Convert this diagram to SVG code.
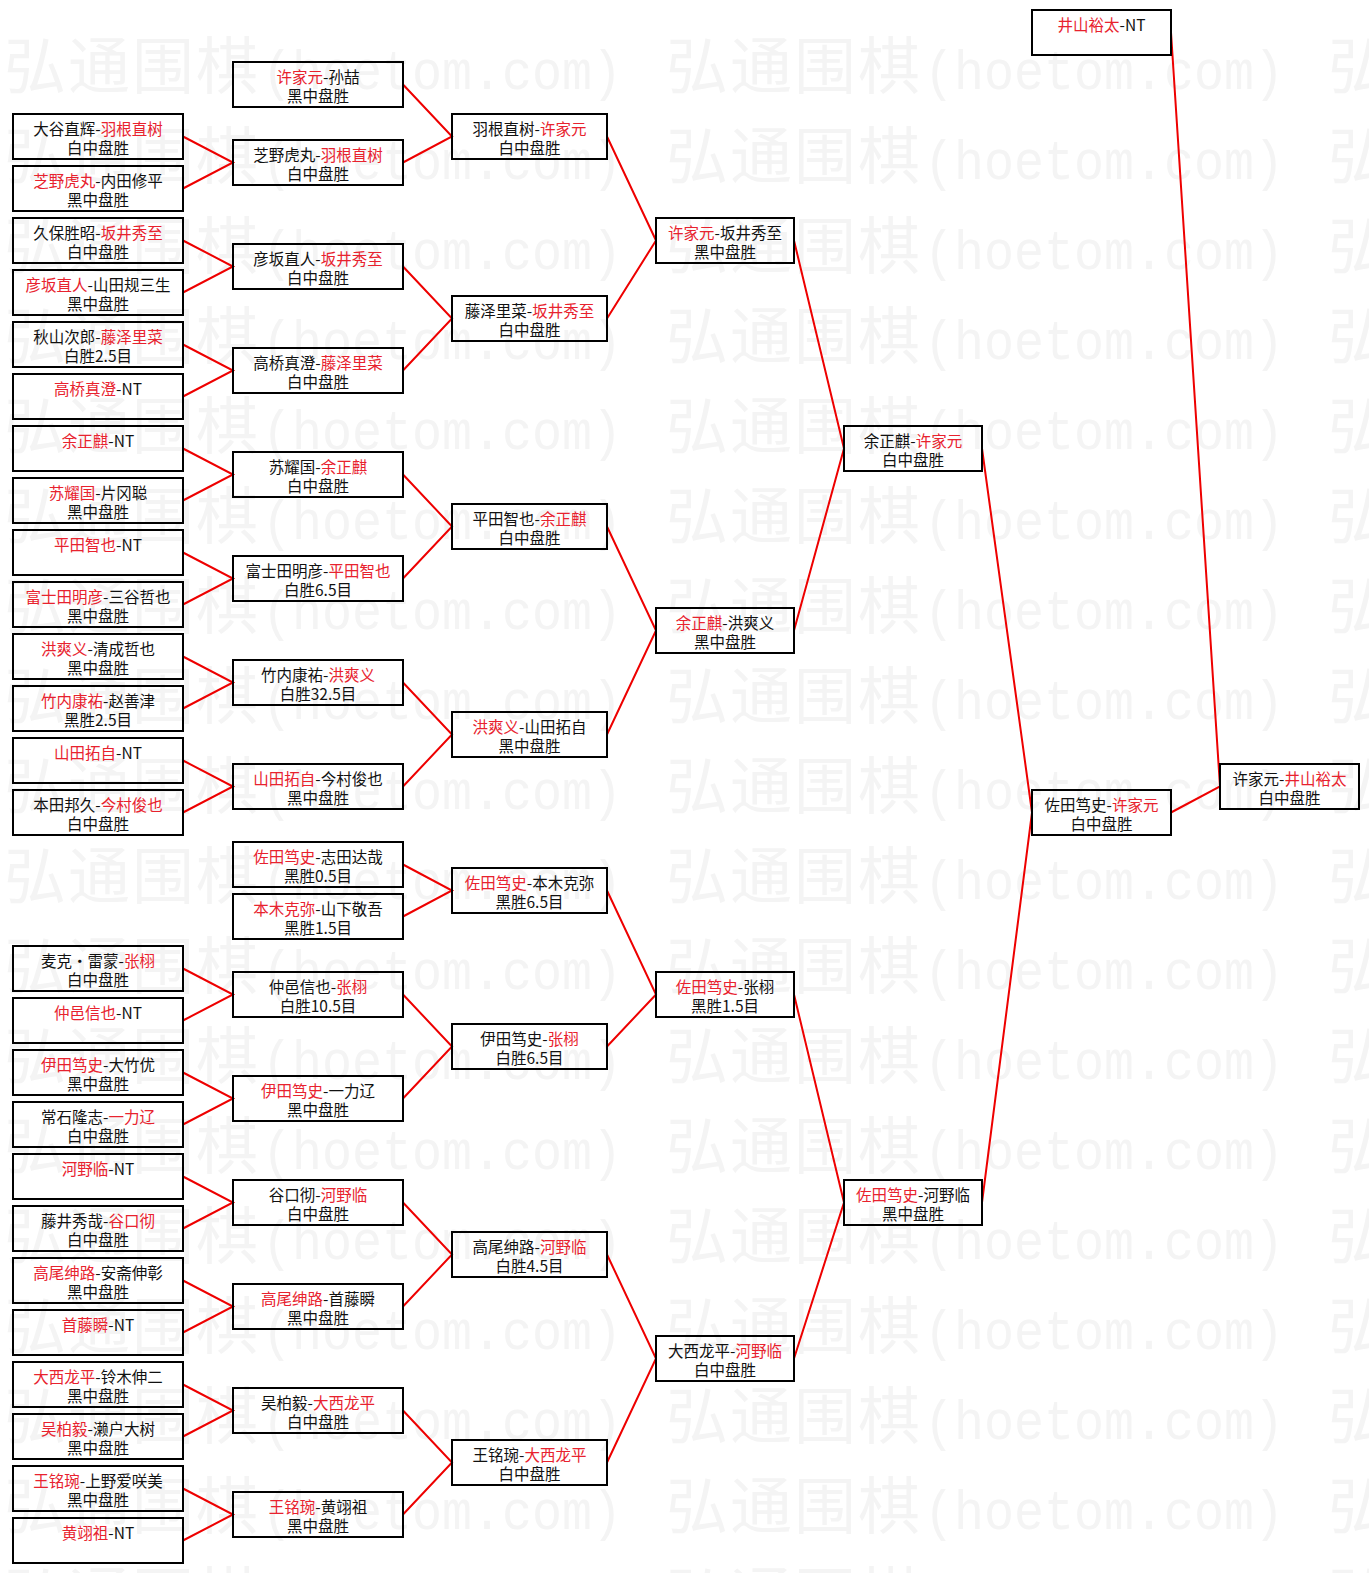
<svg xmlns="http://www.w3.org/2000/svg" xmlns:xlink="http://www.w3.org/1999/xlink" width="1369" height="1573" viewBox="0 0 1369 1573">
<style>
.bg{fill:#fff}
.wmc{font-family:"Noto Sans CJK SC","Noto Sans CJK JP",sans-serif;font-size:62px;letter-spacing:2px;fill:#f4f4f4}
.wma{font-family:"Liberation Mono","DejaVu Sans Mono",monospace;font-size:56px;fill:#f4f4f4}
.box rect{fill:none;stroke:#000;stroke-width:2}
.box text{font-family:"Noto Sans CJK SC","Noto Sans CJK JP",sans-serif;font-size:15.5px;fill:#111;text-anchor:middle}
.box .r{fill:#e8222e}
.cn{fill:none;stroke:#ee0000;stroke-width:2}
</style>
<defs>
<g id="wm">
<text class="wmc" x="0" y="0">弘通围棋</text>
<text class="wma" x="258" y="0" textLength="360" lengthAdjust="spacingAndGlyphs">(hoetom.com)</text>
</g>
<g id="wmrow">
<use xlink:href="#wm" x="4"/>
<use xlink:href="#wm" x="666"/>
<use xlink:href="#wm" x="1328"/>
</g>
</defs>
<rect class="bg" x="0" y="0" width="1369" height="1573"/>
<g id="watermark">
<use xlink:href="#wmrow" y="89"/>
<use xlink:href="#wmrow" y="179"/>
<use xlink:href="#wmrow" y="269"/>
<use xlink:href="#wmrow" y="359"/>
<use xlink:href="#wmrow" y="449"/>
<use xlink:href="#wmrow" y="539"/>
<use xlink:href="#wmrow" y="629"/>
<use xlink:href="#wmrow" y="719"/>
<use xlink:href="#wmrow" y="809"/>
<use xlink:href="#wmrow" y="899"/>
<use xlink:href="#wmrow" y="989"/>
<use xlink:href="#wmrow" y="1079"/>
<use xlink:href="#wmrow" y="1169"/>
<use xlink:href="#wmrow" y="1259"/>
<use xlink:href="#wmrow" y="1349"/>
<use xlink:href="#wmrow" y="1439"/>
<use xlink:href="#wmrow" y="1529"/>
<use xlink:href="#wmrow" y="1619"/>
</g>
<g id="connectors">
<path class="cn" d="M183 136.5L233 162.5L183 188.5M183 240.5L233 266.5L183 292.5M183 344.5L233 370.5L183 396.5M183 448.5L233 474.5L183 500.5M183 552.5L233 578.5L183 604.5M183 656.5L233 682.5L183 708.5M183 760.5L233 786.5L183 812.5M183 968.5L233 994.5L183 1020.5M183 1072.5L233 1098.5L183 1124.5M183 1176.5L233 1202.5L183 1228.5M183 1280.5L233 1306.5L183 1332.5M183 1384.5L233 1410.5L183 1436.5M183 1488.5L233 1514.5L183 1540.5"/>
<path class="cn" d="M403 84.5L452 136.5L403 162.5M403 266.5L452 318.5L403 370.5M403 474.5L452 526.5L403 578.5M403 682.5L452 734.5L403 786.5M403 864.5L452 890.5L403 916.5M403 994.5L452 1046.5L403 1098.5M403 1202.5L452 1254.5L403 1306.5M403 1410.5L452 1462.5L403 1514.5"/>
<path class="cn" d="M607 136.5L656 240.5L607 318.5M607 526.5L656 630.5L607 734.5M607 890.5L656 994.5L607 1046.5M607 1254.5L656 1358.5L607 1462.5"/>
<path class="cn" d="M794 240.5L844 448.5L794 630.5M794 994.5L844 1202.5L794 1358.5"/>
<path class="cn" d="M982 448.5L1032 812.5L982 1202.5"/>
<path class="cn" d="M1171 812.5L1220 786.5L1171 32.5"/>
</g>
<g id="n1-01" class="box"><rect x="13" y="114" width="170" height="45"/><text x="98" y="134.5">大谷直辉-<tspan class="r">羽根直树</tspan></text><text x="98" y="154">白中盘胜</text></g>
<g id="n1-02" class="box"><rect x="13" y="166" width="170" height="45"/><text x="98" y="186.5"><tspan class="r">芝野虎丸</tspan>-内田修平</text><text x="98" y="206">黑中盘胜</text></g>
<g id="n1-03" class="box"><rect x="13" y="218" width="170" height="45"/><text x="98" y="238.5">久保胜昭-<tspan class="r">坂井秀至</tspan></text><text x="98" y="258">白中盘胜</text></g>
<g id="n1-04" class="box"><rect x="13" y="270" width="170" height="45"/><text x="98" y="290.5"><tspan class="r">彦坂直人</tspan>-山田规三生</text><text x="98" y="310">黑中盘胜</text></g>
<g id="n1-05" class="box"><rect x="13" y="322" width="170" height="45"/><text x="98" y="342.5">秋山次郎-<tspan class="r">藤泽里菜</tspan></text><text x="98" y="362">白胜2.5目</text></g>
<g id="n1-06" class="box"><rect x="13" y="374" width="170" height="45"/><text x="98" y="394.5"><tspan class="r">高桥真澄</tspan>-NT</text></g>
<g id="n1-07" class="box"><rect x="13" y="426" width="170" height="45"/><text x="98" y="446.5"><tspan class="r">余正麒</tspan>-NT</text></g>
<g id="n1-08" class="box"><rect x="13" y="478" width="170" height="45"/><text x="98" y="498.5"><tspan class="r">苏耀国</tspan>-片冈聪</text><text x="98" y="518">黑中盘胜</text></g>
<g id="n1-09" class="box"><rect x="13" y="530" width="170" height="45"/><text x="98" y="550.5"><tspan class="r">平田智也</tspan>-NT</text></g>
<g id="n1-10" class="box"><rect x="13" y="582" width="170" height="45"/><text x="98" y="602.5"><tspan class="r">富士田明彦</tspan>-三谷哲也</text><text x="98" y="622">黑中盘胜</text></g>
<g id="n1-11" class="box"><rect x="13" y="634" width="170" height="45"/><text x="98" y="654.5"><tspan class="r">洪爽义</tspan>-清成哲也</text><text x="98" y="674">黑中盘胜</text></g>
<g id="n1-12" class="box"><rect x="13" y="686" width="170" height="45"/><text x="98" y="706.5"><tspan class="r">竹内康祐</tspan>-赵善津</text><text x="98" y="726">黑胜2.5目</text></g>
<g id="n1-13" class="box"><rect x="13" y="738" width="170" height="45"/><text x="98" y="758.5"><tspan class="r">山田拓自</tspan>-NT</text></g>
<g id="n1-14" class="box"><rect x="13" y="790" width="170" height="45"/><text x="98" y="810.5">本田邦久-<tspan class="r">今村俊也</tspan></text><text x="98" y="830">白中盘胜</text></g>
<g id="n1-17" class="box"><rect x="13" y="946" width="170" height="45"/><text x="98" y="966.5">麦克・雷蒙-<tspan class="r">张栩</tspan></text><text x="98" y="986">白中盘胜</text></g>
<g id="n1-18" class="box"><rect x="13" y="998" width="170" height="45"/><text x="98" y="1018.5"><tspan class="r">仲邑信也</tspan>-NT</text></g>
<g id="n1-19" class="box"><rect x="13" y="1050" width="170" height="45"/><text x="98" y="1070.5"><tspan class="r">伊田笃史</tspan>-大竹优</text><text x="98" y="1090">黑中盘胜</text></g>
<g id="n1-20" class="box"><rect x="13" y="1102" width="170" height="45"/><text x="98" y="1122.5">常石隆志-<tspan class="r">一力辽</tspan></text><text x="98" y="1142">白中盘胜</text></g>
<g id="n1-21" class="box"><rect x="13" y="1154" width="170" height="45"/><text x="98" y="1174.5"><tspan class="r">河野临</tspan>-NT</text></g>
<g id="n1-22" class="box"><rect x="13" y="1206" width="170" height="45"/><text x="98" y="1226.5">藤井秀哉-<tspan class="r">谷口彻</tspan></text><text x="98" y="1246">白中盘胜</text></g>
<g id="n1-23" class="box"><rect x="13" y="1258" width="170" height="45"/><text x="98" y="1278.5"><tspan class="r">高尾绅路</tspan>-安斋伸彰</text><text x="98" y="1298">黑中盘胜</text></g>
<g id="n1-24" class="box"><rect x="13" y="1310" width="170" height="45"/><text x="98" y="1330.5"><tspan class="r">首藤瞬</tspan>-NT</text></g>
<g id="n1-25" class="box"><rect x="13" y="1362" width="170" height="45"/><text x="98" y="1382.5"><tspan class="r">大西龙平</tspan>-铃木伸二</text><text x="98" y="1402">黑中盘胜</text></g>
<g id="n1-26" class="box"><rect x="13" y="1414" width="170" height="45"/><text x="98" y="1434.5"><tspan class="r">吴柏毅</tspan>-濑户大树</text><text x="98" y="1454">黑中盘胜</text></g>
<g id="n1-27" class="box"><rect x="13" y="1466" width="170" height="45"/><text x="98" y="1486.5"><tspan class="r">王铭琬</tspan>-上野爱咲美</text><text x="98" y="1506">黑中盘胜</text></g>
<g id="n1-28" class="box"><rect x="13" y="1518" width="170" height="45"/><text x="98" y="1538.5"><tspan class="r">黄翊祖</tspan>-NT</text></g>
<g id="n2-01" class="box"><rect x="233" y="62" width="170" height="45"/><text x="318" y="82.5"><tspan class="r">许家元</tspan>-孙喆</text><text x="318" y="102">黑中盘胜</text></g>
<g id="n2-02" class="box"><rect x="233" y="140" width="170" height="45"/><text x="318" y="160.5">芝野虎丸-<tspan class="r">羽根直树</tspan></text><text x="318" y="180">白中盘胜</text></g>
<g id="n2-03" class="box"><rect x="233" y="244" width="170" height="45"/><text x="318" y="264.5">彦坂直人-<tspan class="r">坂井秀至</tspan></text><text x="318" y="284">白中盘胜</text></g>
<g id="n2-04" class="box"><rect x="233" y="348" width="170" height="45"/><text x="318" y="368.5">高桥真澄-<tspan class="r">藤泽里菜</tspan></text><text x="318" y="388">白中盘胜</text></g>
<g id="n2-05" class="box"><rect x="233" y="452" width="170" height="45"/><text x="318" y="472.5">苏耀国-<tspan class="r">余正麒</tspan></text><text x="318" y="492">白中盘胜</text></g>
<g id="n2-06" class="box"><rect x="233" y="556" width="170" height="45"/><text x="318" y="576.5">富士田明彦-<tspan class="r">平田智也</tspan></text><text x="318" y="596">白胜6.5目</text></g>
<g id="n2-07" class="box"><rect x="233" y="660" width="170" height="45"/><text x="318" y="680.5">竹内康祐-<tspan class="r">洪爽义</tspan></text><text x="318" y="700">白胜32.5目</text></g>
<g id="n2-08" class="box"><rect x="233" y="764" width="170" height="45"/><text x="318" y="784.5"><tspan class="r">山田拓自</tspan>-今村俊也</text><text x="318" y="804">黑中盘胜</text></g>
<g id="n2-09" class="box"><rect x="233" y="842" width="170" height="45"/><text x="318" y="862.5"><tspan class="r">佐田笃史</tspan>-志田达哉</text><text x="318" y="882">黑胜0.5目</text></g>
<g id="n2-10" class="box"><rect x="233" y="894" width="170" height="45"/><text x="318" y="914.5"><tspan class="r">本木克弥</tspan>-山下敬吾</text><text x="318" y="934">黑胜1.5目</text></g>
<g id="n2-11" class="box"><rect x="233" y="972" width="170" height="45"/><text x="318" y="992.5">仲邑信也-<tspan class="r">张栩</tspan></text><text x="318" y="1012">白胜10.5目</text></g>
<g id="n2-12" class="box"><rect x="233" y="1076" width="170" height="45"/><text x="318" y="1096.5"><tspan class="r">伊田笃史</tspan>-一力辽</text><text x="318" y="1116">黑中盘胜</text></g>
<g id="n2-13" class="box"><rect x="233" y="1180" width="170" height="45"/><text x="318" y="1200.5">谷口彻-<tspan class="r">河野临</tspan></text><text x="318" y="1220">白中盘胜</text></g>
<g id="n2-14" class="box"><rect x="233" y="1284" width="170" height="45"/><text x="318" y="1304.5"><tspan class="r">高尾绅路</tspan>-首藤瞬</text><text x="318" y="1324">黑中盘胜</text></g>
<g id="n2-15" class="box"><rect x="233" y="1388" width="170" height="45"/><text x="318" y="1408.5">吴柏毅-<tspan class="r">大西龙平</tspan></text><text x="318" y="1428">白中盘胜</text></g>
<g id="n2-16" class="box"><rect x="233" y="1492" width="170" height="45"/><text x="318" y="1512.5"><tspan class="r">王铭琬</tspan>-黄翊祖</text><text x="318" y="1532">黑中盘胜</text></g>
<g id="n3-01" class="box"><rect x="452" y="114" width="155" height="45"/><text x="529.5" y="134.5">羽根直树-<tspan class="r">许家元</tspan></text><text x="529.5" y="154">白中盘胜</text></g>
<g id="n3-02" class="box"><rect x="452" y="296" width="155" height="45"/><text x="529.5" y="316.5">藤泽里菜-<tspan class="r">坂井秀至</tspan></text><text x="529.5" y="336">白中盘胜</text></g>
<g id="n3-03" class="box"><rect x="452" y="504" width="155" height="45"/><text x="529.5" y="524.5">平田智也-<tspan class="r">余正麒</tspan></text><text x="529.5" y="544">白中盘胜</text></g>
<g id="n3-04" class="box"><rect x="452" y="712" width="155" height="45"/><text x="529.5" y="732.5"><tspan class="r">洪爽义</tspan>-山田拓自</text><text x="529.5" y="752">黑中盘胜</text></g>
<g id="n3-05" class="box"><rect x="452" y="868" width="155" height="45"/><text x="529.5" y="888.5"><tspan class="r">佐田笃史</tspan>-本木克弥</text><text x="529.5" y="908">黑胜6.5目</text></g>
<g id="n3-06" class="box"><rect x="452" y="1024" width="155" height="45"/><text x="529.5" y="1044.5">伊田笃史-<tspan class="r">张栩</tspan></text><text x="529.5" y="1064">白胜6.5目</text></g>
<g id="n3-07" class="box"><rect x="452" y="1232" width="155" height="45"/><text x="529.5" y="1252.5">高尾绅路-<tspan class="r">河野临</tspan></text><text x="529.5" y="1272">白胜4.5目</text></g>
<g id="n3-08" class="box"><rect x="452" y="1440" width="155" height="45"/><text x="529.5" y="1460.5">王铭琬-<tspan class="r">大西龙平</tspan></text><text x="529.5" y="1480">白中盘胜</text></g>
<g id="n4-01" class="box"><rect x="656" y="218" width="138" height="45"/><text x="725" y="238.5"><tspan class="r">许家元</tspan>-坂井秀至</text><text x="725" y="258">黑中盘胜</text></g>
<g id="n4-02" class="box"><rect x="656" y="608" width="138" height="45"/><text x="725" y="628.5"><tspan class="r">余正麒</tspan>-洪爽义</text><text x="725" y="648">黑中盘胜</text></g>
<g id="n4-03" class="box"><rect x="656" y="972" width="138" height="45"/><text x="725" y="992.5"><tspan class="r">佐田笃史</tspan>-张栩</text><text x="725" y="1012">黑胜1.5目</text></g>
<g id="n4-04" class="box"><rect x="656" y="1336" width="138" height="45"/><text x="725" y="1356.5">大西龙平-<tspan class="r">河野临</tspan></text><text x="725" y="1376">白中盘胜</text></g>
<g id="n5-01" class="box"><rect x="844" y="426" width="138" height="45"/><text x="913" y="446.5">余正麒-<tspan class="r">许家元</tspan></text><text x="913" y="466">白中盘胜</text></g>
<g id="n5-02" class="box"><rect x="844" y="1180" width="138" height="45"/><text x="913" y="1200.5"><tspan class="r">佐田笃史</tspan>-河野临</text><text x="913" y="1220">黑中盘胜</text></g>
<g id="n6-01" class="box"><rect x="1032" y="790" width="139" height="45"/><text x="1101.5" y="810.5">佐田笃史-<tspan class="r">许家元</tspan></text><text x="1101.5" y="830">白中盘胜</text></g>
<g id="n6-seed" class="box"><rect x="1032" y="10" width="139" height="45"/><text x="1101.5" y="30.5"><tspan class="r">井山裕太</tspan>-NT</text></g>
<g id="n7-final" class="box"><rect x="1220" y="764" width="139" height="45"/><text x="1289.5" y="784.5">许家元-<tspan class="r">井山裕太</tspan></text><text x="1289.5" y="804">白中盘胜</text></g>
</svg>
